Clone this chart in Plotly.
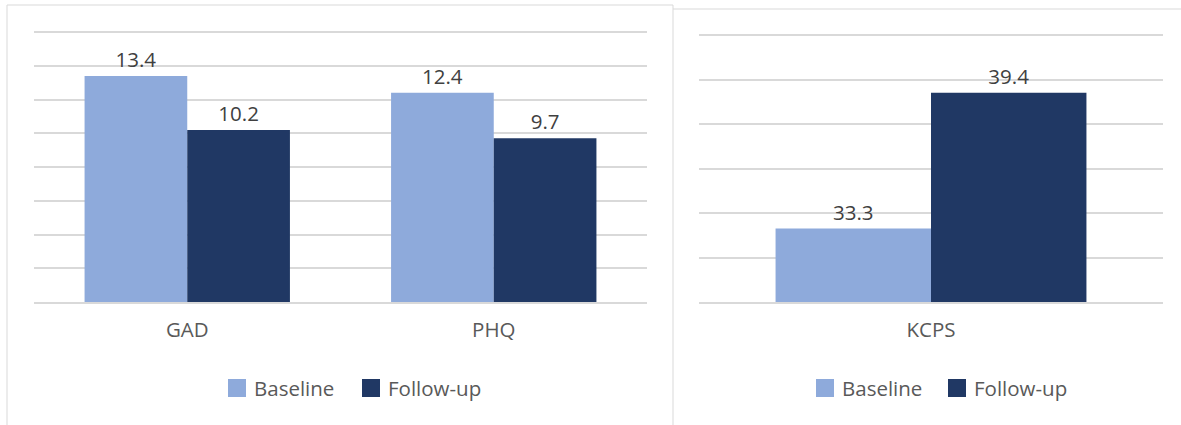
import plotly.graph_objects as go

# Panel 1: anxiety / depression scores
scales_left = ["GAD", "PHQ"]
baseline_left = [13.4, 12.4]
followup_left = [10.2, 9.7]

# Panel 2: KCPS score
scales_right = ["KCPS"]
baseline_right = [33.3]
followup_right = [39.4]

series_names = ["Baseline", "Follow-up"]
series_colors = ["#8EAADB", "#203864"]

W, H = 1181, 425
FONT = "Open Sans"
LABEL_COLOR = "#404040"
AXIS_TEXT = "#595959"
GRID = "#D9D9D9"
FS = 20.5


def px(x):
    return x / W


def py(y):
    return 1 - y / H


def padded_axis(lo, hi, y_lo, y_hi, pad=0.12):
    """Range and vertical domain so that lo sits at pixel row y_lo and hi at
    y_hi; the top is padded a little so the top gridline is drawn (the bottom
    one is the x-axis line)."""
    scale = (y_lo - y_hi) / (hi - lo)
    rng = [lo, hi + pad]
    dom = [py(y_lo), py(y_hi - pad * scale)]
    return rng, dom


fig = go.Figure()

panels = [
    (scales_left, baseline_left, followup_left, "x", "y"),
    (scales_right, baseline_right, followup_right, "x2", "y2"),
]
for cats, base_vals, follow_vals, xa, ya in panels:
    for name, vals, color in zip(series_names, [base_vals, follow_vals], series_colors):
        fig.add_trace(go.Bar(
            x=cats, y=vals, name=name, marker=dict(color=color, line=dict(width=0)),
            texttemplate="%{y:.1f}", textposition="outside",
            textfont=dict(size=FS, color=LABEL_COLOR, family=FONT),
            cliponaxis=False, xaxis=xa, yaxis=ya, showlegend=False,
        ))

axis_x = dict(showgrid=False, zeroline=False, showline=True, linecolor=GRID,
              linewidth=1.5, ticks="outside", ticklen=9, tickcolor="rgba(0,0,0,0)",
              tickfont=dict(size=FS, color=AXIS_TEXT, family=FONT))
axis_y = dict(showgrid=True, gridcolor=GRID, gridwidth=1.5, zeroline=False,
              showline=False, showticklabels=False, ticks="", tick0=0, dtick=2)

rng1, dom1 = padded_axis(0, 16, 302, 32)
rng2, dom2 = padded_axis(30, 42, 302, 35)

fig.update_layout(
    width=W, height=H, margin=dict(l=0, r=0, t=0, b=0),
    paper_bgcolor="white", plot_bgcolor="white",
    barmode="group", bargap=0.33, bargroupgap=0,
    font=dict(family=FONT, color=AXIS_TEXT),
    xaxis=dict(axis_x, domain=[px(34), px(647)], anchor="y"),
    yaxis=dict(axis_y, domain=dom1, range=rng1, anchor="x"),
    xaxis2=dict(axis_x, domain=[px(699), px(1163)], anchor="y2"),
    yaxis2=dict(axis_y, domain=dom2, range=rng2, anchor="x2"),
)

# Chart-area borders
border = dict(color=GRID, width=1)
fig.add_shape(type="line", xref="paper", yref="paper", x0=px(7), x1=px(673), y0=py(5), y1=py(5), line=border)
fig.add_shape(type="line", xref="paper", yref="paper", x0=px(7), x1=px(7), y0=py(5), y1=0, line=border)
fig.add_shape(type="line", xref="paper", yref="paper", x0=px(673), x1=px(673), y0=py(5), y1=0, line=border)
fig.add_shape(type="line", xref="paper", yref="paper", x0=px(673), x1=1, y0=py(9), y1=py(9), line=border)

# Legend swatches and labels for each panel
legend_rows = [
    [(228, 252), (362, 386)],
    [(816, 840), (948, 972)],
]
for row in legend_rows:
    for (sq_x, txt_x), name, color in zip(row, series_names, series_colors):
        fig.add_shape(type="rect", xref="paper", yref="paper",
                      x0=px(sq_x), x1=px(sq_x + 18), y0=py(397), y1=py(379),
                      fillcolor=color, line=dict(width=0))
        fig.add_annotation(x=px(txt_x), y=py(388), xref="paper", yref="paper",
                           text=name, showarrow=False, xanchor="left", yanchor="middle",
                           font=dict(size=FS, color=AXIS_TEXT, family=FONT))

fig.write_html("out.html")
